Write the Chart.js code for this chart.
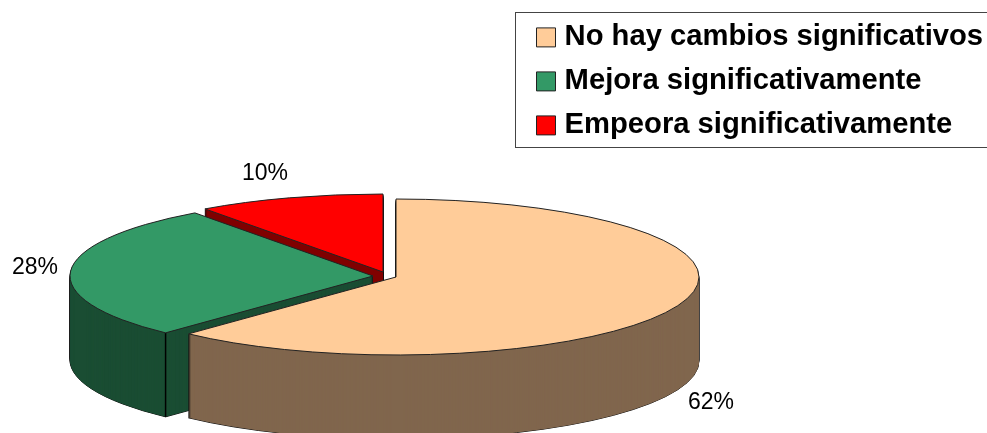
<!DOCTYPE html>
<html>
<head>
<meta charset="utf-8">
<title>Cambios</title>
<script src="https://cdn.jsdelivr.net/npm/chart.js@4"></script>
<style>
  html, body { margin: 0; padding: 0; background: #fff; overflow: hidden; }
  canvas { display: block; }
</style>
</head>
<body>
<canvas id="pie" width="987" height="433"></canvas>
<script>
const categories = ['No hay cambios significativos', 'Mejora significativamente', 'Empeora significativamente'];
const percents = [62, 28, 10];
const topColors = ['#FFCC99', '#339966', '#FF0000'];
const sideColors = ['#80664D', '#1A4D33', '#800000'];

// fake 3D: how the flat pie is squashed and pulled apart
const radius = 303;
const squash = 0.2574;
const depth = 84;
const explodeX = [0, -23, -13];
const explodeY = [0, -1, -5];
const pctX = [711, 35, 265];
const pctY = [403, 268, 174];

function drawSlice(ctx, arc, i, shift, opts) {
    const saved = arc.options;
    arc.options = Object.assign({}, saved, opts);
    ctx.save();
    ctx.translate(arc.x + explodeX[i], arc.y + explodeY[i] + shift);
    ctx.scale(1, squash);
    ctx.translate(-arc.x, -arc.y);
    arc.draw(ctx);
    ctx.restore();
    arc.options = saved;
}

const pie3d = {
    id: 'pie3d',
    beforeDraw(chart) {
        const ctx = chart.ctx;
        ctx.save();
        ctx.strokeStyle = '#444';
        ctx.lineWidth = 1;
        ctx.strokeRect(515.5, 12.5, 480, 135);
        ctx.restore();
    },
    beforeDatasetsDraw(chart) {
        const ctx = chart.ctx;
        const arcs = chart.getDatasetMeta(0).data;
        // strokes must not get squashed with the path
        const realStroke = ctx.stroke;
        ctx.stroke = function () {
            ctx.save();
            ctx.setTransform(1, 0, 0, 1, 0, 0);
            realStroke.call(ctx);
            ctx.restore();
        };
        // back to front: red, green, peach
        [2, 1, 0].forEach(i => {
            const arc = arcs[i];
            for (let d = depth; d > 0; d--) {
                drawSlice(ctx, arc, i, d, { backgroundColor: sideColors[i], borderColor: '#111', borderWidth: 1 });
            }
            for (let d = depth; d > 0; d--) {
                drawSlice(ctx, arc, i, d, { backgroundColor: sideColors[i], borderWidth: 0 });
            }
            if (i === 1) {
                // edge where the rim meets the cut face
                const ex = arc.x + explodeX[i] + radius * Math.cos(arc.startAngle);
                const ey = arc.y + explodeY[i] + squash * radius * Math.sin(arc.startAngle);
                ctx.save();
                ctx.strokeStyle = '#000';
                ctx.lineWidth = 1.5;
                ctx.beginPath();
                ctx.moveTo(ex, ey);
                ctx.lineTo(ex, ey + depth);
                ctx.stroke();
                ctx.restore();
            }
            drawSlice(ctx, arc, i, 0, { backgroundColor: topColors[i], borderColor: '#222', borderWidth: 1 });
        });
        delete ctx.stroke;
        return false;
    },
    afterLayout(chart) {
        // legend sits in the top right corner, free of the pie area
        const legend = chart.legend;
        legend.left = 527.2;
        legend.right = 987;
        legend.top = 8;
        legend.bottom = 433;
    },
    afterDraw(chart) {
        const ctx = chart.ctx;
        ctx.save();
        ctx.fillStyle = '#000';
        ctx.font = '23px "Liberation Sans"';
        ctx.textAlign = 'center';
        ctx.textBaseline = 'middle';
        percents.forEach((p, i) => ctx.fillText(p + '%', pctX[i], pctY[i]));
        ctx.restore();
    }
};

new Chart(document.getElementById('pie'), {
    type: 'pie',
    data: {
        labels: categories,
        datasets: [{
            data: percents,
            backgroundColor: topColors,
            borderColor: '#222',
            borderWidth: 1,
            radius: radius
        }]
    },
    options: {
        responsive: false,
        animation: false,
        events: [],
        layout: { padding: { left: 0, right: 195, top: 121, bottom: 0 } },
        plugins: {
            tooltip: { enabled: false },
            legend: {
                position: 'chartArea',
                align: 'start',
                labels: {
                    color: '#000',
                    usePointStyle: true,
                    pointStyle: 'rect',
                    boxWidth: 8,
                    boxHeight: 19,
                    padding: 14.8,
                    font: { family: '"Liberation Sans"', size: 29.2, weight: 'bold' }
                }
            }
        }
    },
    plugins: [pie3d]
});
</script>
</body>
</html>
